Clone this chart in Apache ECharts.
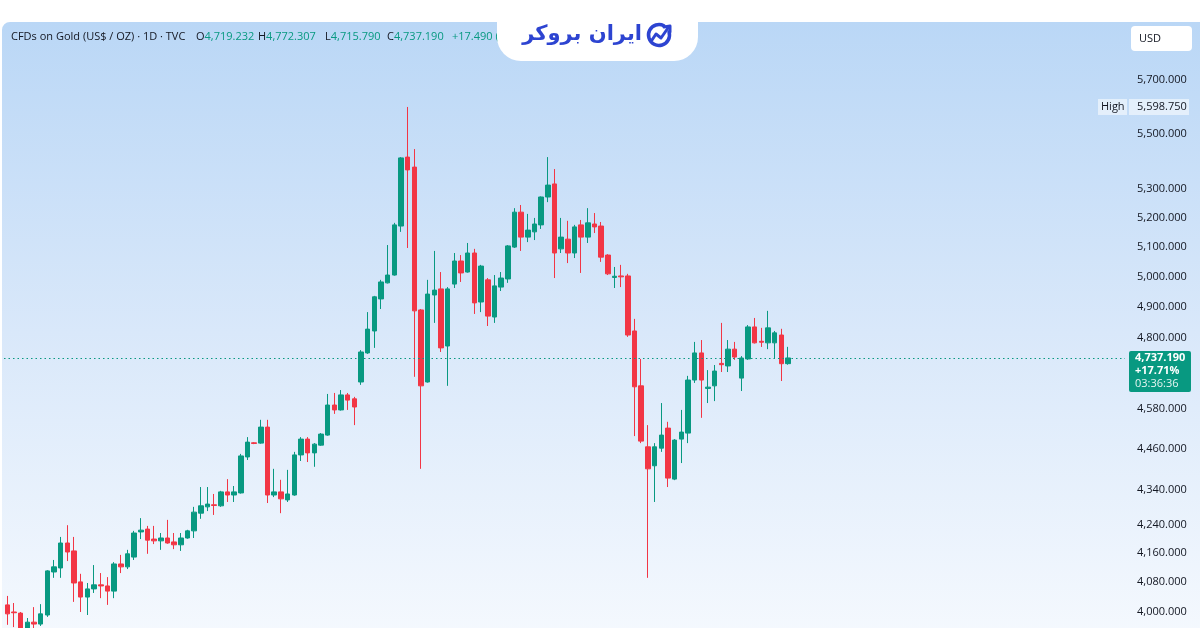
<!DOCTYPE html>
<html><head><meta charset="utf-8">
<script src="https://cdn.jsdelivr.net/npm/echarts@6/dist/echarts.min.js"></script>
<style>html,body{margin:0;padding:0;background:#fff;}#c{width:1200px;height:628px;}</style>
</head><body><div id="c"></div>
<script>
// ---- DATA ----
const openPrices = [4019,4000,3997,3952,3973,3968,3992,4108,4119,4188,4166,4081,4040,4062,4073,4070,4056,4130,4122,4149,4219,4227,4199,4194,4202,4191,4183,4202,4222,4272,4290,4296,4293,4333,4324,4330,4435,4477,4476,4524,4324,4333,4310,4324,4441,4488,4447,4470,4500,4591,4576,4622,4610,4662,4753,4823,4927,4980,5006,5172,5415,5379,4891,4662,4940,4960,4775,4976,5053,5016,5080,4917,4990,4868,4966,4993,5100,5220,5134,5152,5176,5273,5319,5094,5127,5080,5176,5134,5179,5172,5073,4998,5003,5003,4823,4650,4465,4409,4461,4521,4370,4488,4506,4668,4753,4642,4650,4720,4712,4765,4674,4734,4836,4790,4785,4785,4810,4719.232];
const closePrices = [3995,3998,3947,3973,3968,3995,4111,4122,4188,4163,4078,4040,4062,4073,4070,4056,4130,4122,4158,4216,4224,4196,4194,4202,4188,4183,4202,4222,4275,4293,4298,4294,4333,4324,4333,4438,4479,4475,4524,4324,4333,4313,4327,4441,4488,4447,4473,4503,4591,4576,4622,4606,4585,4756,4829,4934,4983,5006,5176,5412,5369,4888,4650,4943,4956,4769,4960,5053,5013,5080,4914,5036,4871,4970,4996,5104,5220,5134,5158,5179,5273,5315,5080,5134,5080,5169,5134,5183,5169,5066,5010,5002,5000,4810,4647,4482,4400,4465,4500,4373,4485,4509,4668,4753,4668,4646,4696,4716,4765,4740,4737,4836,4785,4787,4833,4817,4719,4737.19];
const lowPrices = [3966,3960,3926,3939,3947,3963,3987,4092,4092,4138,4027,4000,3992,4051,4037,4019,4037,4105,4116,4141,4199,4158,4185,4169,4186,4171,4166,4200,4202,4256,4278,4267,4290,4304,4304,4328,4426,4473,4474,4301,4318,4272,4304,4322,4423,4420,4406,4468,4498,4564,4574,4576,4530,4653,4750,4769,4894,4978,5004,5152,5097,4678,4400,4660,4849,4756,4650,4963,4983,5014,4878,4884,4839,4849,4953,4980,5097,5087,5117,5124,5162,5255,4996,5080,5046,5063,5013,5114,5148,5050,5006,4963,4966,4804,4497,4476,4092,4304,4450,4347,4367,4417,4476,4659,4552,4597,4603,4693,4693,4731,4634,4731,4783,4772,4765,4737,4665,4715.79];
const highPrices = [4043,4024,4000,3984,4013,4021,4113,4141,4205,4238,4205,4103,4078,4127,4105,4094,4135,4155,4169,4222,4258,4236,4236,4216,4253,4216,4216,4225,4290,4347,4347,4327,4336,4370,4350,4444,4494,4479,4546,4546,4400,4368,4397,4450,4494,4494,4476,4506,4625,4628,4637,4628,4616,4762,4884,4937,4990,5107,5183,5415,5598.75,5444,4894,4990,5087,5016,4966,5080,5073,5114,5094,5040,4996,5006,5016,5107,5234,5245,5214,5200,5275,5415,5372,5200,5190,5176,5193,5234,5217,5186,5076,5033,5040,5010,4862,4734,4530,4476,4597,4540,4488,4576,4681,4788,4794,4699,4715,4849,4794,4788,4743,4842,4865,4833,4888,4823,4830,4772.307];
const priceTicks = [4000,4080,4160,4240,4340,4460,4580,4800,4900,5000,5100,5200,5300,5500,5700];
const periodHigh = 5598.75;
const lastClose = 4737.19;
const changePct = '+17.71%';
const countdown = '03:36:36';
const headerTitle = 'CFDs on Gold (US$ / OZ) · 1D · TVC';
const headerValues = [['O','4,719.232'],['H','4,772.307'],['L','4,715.790'],['C','4,737.190']];
const headerChange = '+17.490 (';
const totalSlots = 168;
const categories = [];
for (let i = 0; i < totalSlots; i++) categories.push('D' + (i + 1));

const UP = '#089981', DOWN = '#F23645', TXT = '#131722', LOGO = '#2d44d1';
const candles = openPrices.map((o, i) => [o, closePrices[i], lowPrices[i], highPrices[i]]);
const fmt = v => (Math.round(v * 1000) / 1000).toLocaleString('en-US', {minimumFractionDigits: 3, maximumFractionDigits: 3});

const chart = echarts.init(document.getElementById('c'), null, {renderer: 'canvas'});

const headerX = [196, 258, 325, 387];
const graphics = [
  {type: 'rect', z: -1, shape: {x: 2, y: 22, width: 1198, height: 620, r: [8, 0, 0, 0]},
   style: {fill: new echarts.graphic.LinearGradient(0, 0, 0, 1, [
     {offset: 0, color: '#bad7f6'}, {offset: 0.5, color: '#d9e8fa'}, {offset: 1, color: '#f5f9fe'}])}},
  {type: 'text', z: 1, x: 11, y: 37, style: {text: headerTitle, fill: TXT, font: '11px "Open Sans"', verticalAlign: 'middle'}}
];
headerValues.forEach((hv, k) => {
  graphics.push({type: 'text', z: 1, x: headerX[k], y: 37, style: {
    text: '{a|' + hv[0] + '}{b|' + hv[1] + '}', verticalAlign: 'middle', font: '11px "Open Sans"',
    rich: {a: {fill: TXT, font: '11px "Open Sans"'}, b: {fill: UP, font: '11px "Open Sans"'}}}});
});
graphics.push({type: 'text', z: 1, x: 452, y: 37, style: {text: headerChange, fill: UP, font: '11px "Open Sans"', verticalAlign: 'middle'}});
// logo tab
graphics.push({type: 'rect', z: 5, shape: {x: 497, y: 0, width: 201, height: 61, r: [0, 0, 24, 24]}, style: {fill: '#ffffff'}});
graphics.push({type: 'text', z: 6, x: 642, y: 35, style: {text: 'ایران بروکر', fill: LOGO, font: 'bold 21px "DejaVu Sans"', align: 'right', verticalAlign: 'middle'}});
graphics.push({type: 'arc', z: 6, shape: {cx: 659, cy: 35, r: 10.5, startAngle: -0.3, endAngle: 5.2}, style: {stroke: LOGO, lineWidth: 3.5, fill: null, lineCap: 'round'}});
graphics.push({type: 'polyline', z: 6, shape: {points: [[652, 40], [656, 34], [661, 38], [668, 28]]}, style: {stroke: LOGO, lineWidth: 3, fill: null, lineCap: 'round', lineJoin: 'round'}});
graphics.push({type: 'polyline', z: 6, shape: {points: [[664, 27], [670, 26], [670, 32]]}, style: {stroke: LOGO, lineWidth: 3, fill: null, lineCap: 'round', lineJoin: 'round'}});
// USD box
graphics.push({type: 'rect', z: 5, shape: {x: 1131, y: 26, width: 61, height: 25, r: 4}, style: {fill: '#ffffff'}});
graphics.push({type: 'text', z: 6, x: 1139, y: 39, style: {text: 'USD', fill: TXT, font: '11px "Open Sans"', verticalAlign: 'middle'}});

chart.setOption({
  animation: false,
  grid: {left: 4, right: 75, top: 22, bottom: 0},
  xAxis: {type: 'category', data: categories, show: false, boundaryGap: true},
  yAxis: {
    type: 'log', logBase: 10, min: 3957.6, max: 5924.6, position: 'right',
    axisLine: {show: false}, axisTick: {show: false}, splitLine: {show: false},
    axisLabel: {customValues: priceTicks, margin: 12, fontSize: 11, fontFamily: 'Open Sans', color: TXT, formatter: v => fmt(v)}
  },
  graphic: graphics,
  series: [{
    type: 'candlestick', data: candles, barWidth: 5, clip: true,
    itemStyle: {color: UP, color0: DOWN, borderColor: UP, borderColor0: DOWN, borderWidth: 1},
    markLine: {symbol: 'none', silent: true, label: {show: false},
      lineStyle: {color: UP, type: [1.5, 3], width: 1}, data: [{yAxis: lastClose}]}
  }]
});

// labels anchored on the price scale
const yHigh = chart.convertToPixel({yAxisIndex: 0}, periodHigh);
const yLast = chart.convertToPixel({yAxisIndex: 0}, lastClose);
const extra = [
  {type: 'rect', z: 8, shape: {x: 1098, y: yHigh - 8, width: 29, height: 16}, style: {fill: 'rgba(255,255,255,0.55)'}},
  {type: 'text', z: 9, x: 1101, y: yHigh, style: {text: 'High', fill: TXT, font: '11px "Open Sans"', verticalAlign: 'middle'}},
  {type: 'rect', z: 8, shape: {x: 1129, y: yHigh - 8, width: 60, height: 16}, style: {fill: 'rgba(255,255,255,0.55)'}},
  {type: 'text', z: 9, x: 1137, y: yHigh, style: {text: fmt(periodHigh), fill: TXT, font: '11px "Open Sans"', verticalAlign: 'middle'}},
  {type: 'rect', z: 8, shape: {x: 1129, y: yLast - 7, width: 62, height: 41, r: 2}, style: {fill: UP}},
  {type: 'text', z: 9, x: 1135, y: yLast, style: {text: fmt(lastClose), fill: '#fff', font: 'bold 11px "Open Sans"', verticalAlign: 'middle'}},
  {type: 'text', z: 9, x: 1135, y: yLast + 13, style: {text: changePct, fill: '#fff', font: 'bold 11px "Open Sans"', verticalAlign: 'middle'}},
  {type: 'text', z: 9, x: 1135, y: yLast + 26, style: {text: countdown, fill: '#e6f5f1', font: '11px "Open Sans"', verticalAlign: 'middle'}}
];
chart.setOption({graphic: graphics.concat(extra)});
</script></body></html>
